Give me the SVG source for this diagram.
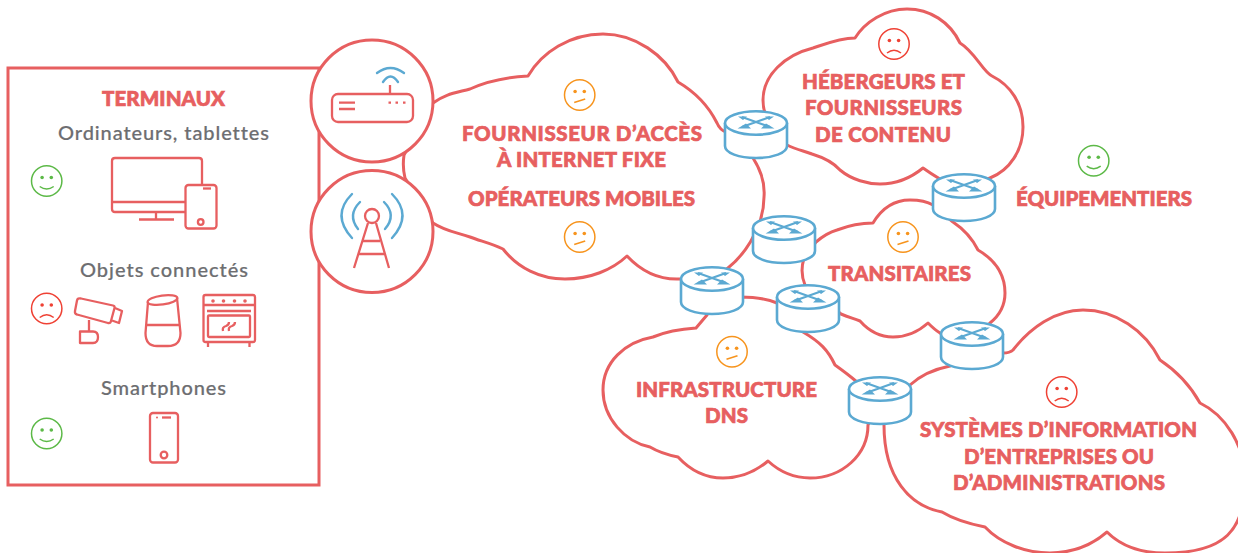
<svg xmlns="http://www.w3.org/2000/svg" xmlns:xlink="http://www.w3.org/1999/xlink" width="1238" height="553" viewBox="0 0 1238 553">
<style>
.l{fill:none;stroke:#e75f60;stroke-width:3;stroke-linejoin:round;stroke-linecap:round}
.i{fill:none;stroke:#e75f60;stroke-width:2.3;stroke-linejoin:round}
.c{fill:#fff;stroke:#e75f60;stroke-width:3}
.b{fill:none;stroke:#5ba9d2;stroke-width:2.4;stroke-linecap:round}
.t{font-family:"Lato","Liberation Sans",sans-serif;font-weight:900;font-size:20.5px;fill:#e75f60;stroke:#e75f60;stroke-width:0.7;font-variant-ligatures:none}
.g{font-family:"Lato","Liberation Sans",sans-serif;font-weight:500;font-size:20px;fill:#6d6e71;stroke:#6d6e71;stroke-width:0.2;font-variant-ligatures:none}
.rb{fill:#fff;stroke:#5ba9d2;stroke-width:2.6}
.ra{fill:none;stroke:#5ba9d2;stroke-width:2.2}
.raf{fill:#5ba9d2}
</style>
<defs>
<g id="router">
<path class="rb" d="M-31,0 V23 C-31,30 -17,35 0,35 C17,35 31,30 31,23 V0"/>
<ellipse class="rb" cx="0" cy="0" rx="31" ry="11.7"/>
<path class="ra" d="M-14,-6 L14,4 M14,-6 L-14,4"/>
<path class="raf" d="M18.500,5.500 L5,5.500 L10,0.500Z M-18.500,5.500 L-5,5.500 L-10,0.500Z M-18,-6.500 L-9,-6.500 L-13,-3Z M18,-6.500 L9,-6.500 L13,-3Z"/>
</g>
<g id="face-ok" fill="none" stroke="#5cb947" stroke-width="1.5">
<circle r="15.2"/><circle cx="-4.600" cy="-3.500" r="1.800" fill="#5cb947" stroke="none"/><circle cx="4.600" cy="-3.500" r="1.800" fill="#5cb947" stroke="none"/>
<path d="M-7,5.500 Q0,10.500 7,5.500"/>
</g>
<g id="face-bad" fill="none" stroke="#ef4134" stroke-width="1.5">
<circle r="15.2"/><circle cx="-4.600" cy="-3.500" r="1.800" fill="#ef4134" stroke="none"/><circle cx="4.600" cy="-3.500" r="1.800" fill="#ef4134" stroke="none"/>
<path d="M-7,9 Q0,3.500 7,9"/>
</g>
<g id="face-mid" fill="none" stroke="#f7941d" stroke-width="1.5">
<circle r="15.2"/><circle cx="-4.600" cy="-3.500" r="1.800" fill="#f7941d" stroke="none"/><circle cx="4.600" cy="-3.500" r="1.800" fill="#f7941d" stroke="none"/>
<path d="M-5.500,7.500 L5.500,4"/>
</g>
</defs>

<g id="terminaux">
<rect x="8" y="68" width="311" height="417" fill="#fff" stroke="#e75f60" stroke-width="3"/>
<text class="t" x="102" y="106" textLength="123">TERMINAUX</text>
<text class="g" x="58" y="140" textLength="211">Ordinateurs, tablettes</text>
<text class="g" x="80" y="277" textLength="168">Objets connectés</text>
<text class="g" x="101" y="395" textLength="125">Smartphones</text>
<use href="#face-ok" x="46.700" y="181"/>
<use href="#face-bad" x="46.700" y="308.500"/>
<use href="#face-ok" x="46.700" y="433.500"/>
<g id="icon-computer">
<path class="i" d="M185,212 H115 Q112,212 112,209 V161 Q112,158 115,158 H199 Q202,158 202,161 V185 M112,202 H185 M156,212 V220 M139,219.500 H174"/>
<rect class="i" x="185.500" y="185" width="31" height="43.500" rx="3"/>
<path class="i" d="M203,188.500 H211"/>
<circle class="i" cx="200.700" cy="222" r="2.800"/>
</g>
<g id="icon-camera">
<path class="i" d="M81,298.500 L113,305.500 Q115,306 114.500,308 L111,321 Q110.500,323.500 108,323 L77,314.500 Q74.500,314 75,311 L77,300.500 Q77.500,297.800 81,298.500Z"/>
<path class="i" d="M115,308 L122,311 L119,323 L112,320.500"/>
<path class="i" d="M89,320 V331 M80,331.500 H93 Q98,331.500 98,337 Q98,343 93,343 H80Z"/>
</g>
<g id="icon-speaker">
<ellipse class="i" cx="162.500" cy="300" rx="15" ry="4.500" transform="rotate(-8 162.500 300)"/>
<path class="i" d="M148,302 L145.500,333 Q145.500,346 157,346 H168 Q180.500,346 180.500,333 L177,298 M146,325 H179.500"/>
</g>
<g id="icon-oven">
<rect class="i" x="203.500" y="295" width="51.500" height="47" rx="2"/>
<path class="i" d="M203.500,305 H255 M208,342 V347 M249.500,342 V347 M207,311 H251"/>
<rect class="i" x="208" y="315.500" width="42" height="21.500" rx="1"/>
<circle cx="213" cy="301" r="1.800" fill="#e75f60"/><circle cx="223.500" cy="301" r="1.800" fill="#e75f60"/><circle cx="234.500" cy="301" r="1.800" fill="#e75f60"/><circle cx="245" cy="301" r="1.800" fill="#e75f60"/>
<path class="i" d="M223,331 Q222,327 226,326 Q229,325 229,322 M229,331 Q228,327 232,326 Q235,325 235,322"/>
</g>
<g id="icon-phone">
<rect class="i" x="150" y="413" width="28" height="49.500" rx="3"/>
<path class="i" d="M162,417.500 H171"/><circle cx="157" cy="417.500" r="1" fill="#e75f60"/>
<circle class="i" cx="164" cy="455" r="3.300"/>
</g>
</g>

<g id="cloud-fai">
<path class="l" d="M433,103 C445,94 455,93 470,89 C490,80 510,77 528,76 C542,52 570,34 603,34 C635,34 665,55 678,82 C695,92 708,105 717,123 Q720,130 726,132 L753,158 C762,172 765,185 764,197 C764,225 745,262 712,278 L680,279 C660,280 642,272 627,256 C612,270 590,279 565,279 C540,279 518,268 503,249 C490,243 480,241 470,237 C455,232 445,231 433,223 L405,178 C403,170 403,162 404,155Z"/>
<use href="#face-mid" x="579.700" y="95"/>
<use href="#face-mid" x="579.700" y="237"/>
<text class="t" x="462" y="141" textLength="240">FOURNISSEUR D’ACCÈS</text>
<text class="t" x="497" y="167" textLength="169">À INTERNET FIXE</text>
<text class="t" x="468" y="206" textLength="227">OPÉRATEURS MOBILES</text>
</g>
<g id="cloud-hebergeurs">
<path class="l" d="M787,145 C797,150 805,151 812,154 C825,158 833,162 840,170 C852,180 868,184 880,184 C897,184 912,177 923,168 C930,173 940,180 960,190 L990,178 C1010,170 1023,150 1023,127 C1023,103 1010,85 992,76 C983,72 975,52 960,43 C950,22 930,9 907,9 C885,9 865,22 855,38 C840,38 825,44 813,48 C785,55 763,75 763,100 Q763,110 767,118 L770,130Z"/>
<use href="#face-bad" x="894" y="44"/>
<text class="t" x="802" y="89" textLength="163">HÉBERGEURS ET</text>
<text class="t" x="805" y="115" textLength="157">FOURNISSEURS</text>
<text class="t" x="815" y="142" textLength="136">DE CONTENU</text>
</g>
<g id="cloud-transitaires">
<path class="l" d="M816,242 C823,236 830,232 837,230 C850,225 860,223 873,223 C882,208 895,200 910,200 C920,200 928,202 933,205 L953,222 C965,230 973,240 978,250 C995,260 1005,275 1005,293 C1005,305 1000,315 990,323 L972,345 L945,335 L940,333 C935,330 932,327 928,323 C918,332 905,337 893,337 C880,337 868,330 860,321 C852,318 848,317 841,314 L805,285 C802,278 801,268 804,258Z"/>
<use href="#face-mid" x="903" y="237"/>
<text class="t" x="828" y="281" textLength="143">TRANSITAIRES</text>
</g>
<g id="cloud-dns">
<path class="l" d="M707,315 L696,328 C680,329 665,332 653,337 C625,342 603,362 603,390 C603,418 625,442 650,447 C660,453 668,455 678,457 C690,470 705,478 723,478 C740,478 755,472 768,461 C780,472 795,478 810,478 C842,478 868,455 868,425 L880,400 L857,382 C850,376 842,370 835,365 C828,350 820,342 803,332 L808,320 L777,303 C765,298 755,297 740,297 L712,300Z"/>
<use href="#face-mid" x="732" y="351.700"/>
<text class="t" x="636" y="397" textLength="181">INFRASTRUCTURE</text>
<text class="t" x="705" y="423" textLength="43">DNS</text>
</g>
<g id="cloud-si">
<path class="l" d="M950,366 C935,369 922,374 910,385 L884,420 L884,425 C884,478 910,506 942,512 C955,520 970,524 985,527 C1000,543 1025,553 1050,553 C1072,553 1092,545 1107,532 C1120,545 1140,553 1165,553 C1225,553 1245,530 1245,480 C1245,445 1225,415 1200,403 C1190,385 1178,372 1160,360 C1145,330 1115,310 1083,310 C1055,310 1030,328 1013,350 Q1010,353 1003,353 L972,350Z"/>
<use href="#face-bad" x="1061.700" y="392"/>
<text class="t" x="920" y="437" textLength="277">SYSTÈMES D’INFORMATION</text>
<text class="t" x="964" y="464" textLength="190">D’ENTREPRISES OU</text>
<text class="t" x="953" y="490" textLength="212">D’ADMINISTRATIONS</text>
</g>
<g id="equipementiers">
<use href="#face-ok" x="1093.700" y="160.700"/>
<text class="t" x="1016" y="206" textLength="176">ÉQUIPEMENTIERS</text>
</g>

<g id="box-internet">
<circle class="c" cx="372" cy="101" r="61"/>
<rect class="i" x="332" y="94" width="81" height="28" rx="6"/>
<path class="i" d="M339,102.700 H355 M339,109 H355 M390,85 V94 M388.500,102.700 H391 M395.500,102.700 H398 M403,102.700 H405.500"/>
<path class="b" d="M377,73 Q390.500,63 404,73 M383,82 Q390.500,71 398,82"/>
</g>
<g id="antenne">
<circle class="c" cx="372" cy="231.500" r="61"/>
<circle class="i" cx="372" cy="216" r="7"/>
<path class="i" d="M368,223 L354,268 M376,223 L389,268 M363,241 H380 M359,254 H385"/>
<path class="b" d="M360,202 Q347,215 358,229 M352,194 Q331,215 352,238 M384,202 Q397,215 385,229 M392,194 Q413,215 392,238"/>
</g>

<g id="routeurs">
<use id="routeur-1" href="#router" x="756" y="123"/>
<use id="routeur-2" href="#router" x="712" y="279"/>
<use id="routeur-3" href="#router" x="784" y="228"/>
<use id="routeur-4" href="#router" x="808" y="297"/>
<use id="routeur-5" href="#router" x="964" y="186"/>
<use id="routeur-6" href="#router" x="880" y="389"/>
<use id="routeur-7" href="#router" x="972" y="334"/>
</g>
</svg>
